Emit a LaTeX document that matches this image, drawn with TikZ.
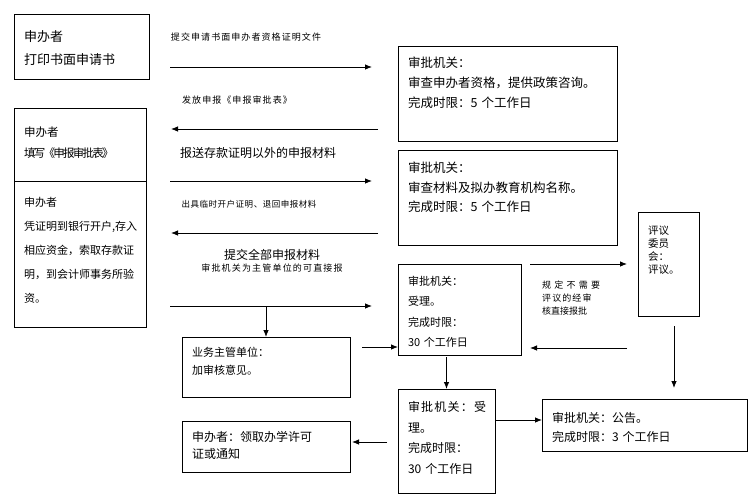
\documentclass[tikz,border=0pt]{standalone}
\usepackage{fontspec}
\setmainfont{Noto Sans CJK SC}
\usetikzlibrary{arrows.meta}
\newcommand\fs[2]{\fontsize{#1}{#2}\selectfont}
\newcommand\lsp[1]{\addfontfeatures{LetterSpace=#1}}

\begin{document}
\begin{tikzpicture}[x=1pt, y=-1pt, >={Latex[length=7pt,width=5.5pt]},
  box/.style={draw, line width=.8pt, anchor=north west, align=left,
    inner xsep=10pt, inner ysep=0pt, outer sep=0pt},
  lbl/.style={inner sep=0pt, font=\fs{9}{13}},
  conn/.style={->, line width=.8pt}]
\useasboundingbox (0,0) rectangle (755,501);

\node[box, text width=115pt, text height=27pt, text depth=38pt, font=\fs{13}{23}] (A) at (14,14) {申办者\\打印书面申请书};
\node[box, text width=112pt, text height=28.4pt, text depth=44.6pt, font=\fs{11.5}{21}] (B) at (14,108) {申办者\\{\lsp{-15}填写《申报审批表》}};
\node[box, text width=112pt, text height=25.2pt, text depth=120.8pt, font=\fs{11}{24}] (P) at (14,181) {申办者\\凭证明到银行开户,存入\\相应资金，索取存款证\\明，到会计师事务所验\\资。};
\node[box, text width=199pt, text height=21.8pt, text depth=73.2pt, font=\fs{12.5}{20}] (C) at (398,46) {审批机关：\\审查申办者资格，提供政策咨询。\\完成时限：5 个工作日};
\node[box, text width=199pt, text height=22.8pt, text depth=72.2pt, font=\fs{12.5}{19.5}] (D) at (398,150) {审批机关：\\审查材料及拟办教育机构名称。\\完成时限：5 个工作日};
\node[box, text width=41pt, text height=22pt, text depth=82pt, font=\fs{10.5}{13}] (E) at (638,212) {评议\\委员\\会：\\评议。};
\node[box, text width=103pt, text height=21.2pt, text depth=69.8pt, font=\fs{11}{20.5}] (F) at (398,264) {审批机关：\\受理。\\完成时限：\\30 个工作日};
\node[box, text width=148pt, text height=19.2pt, text depth=40.8pt, font=\fs{11}{18}] (G) at (182,337) {业务主管单位：\\加审核意见。};
\node[box, text width=77pt, text height=22.6pt, text depth=81.4pt, font=\fs{12}{20.5}] (H) at (398,389) {{\lsp{10}审批机关：受}\\理。\\完成时限：\\30 个工作日};
\node[box, text width=185pt, text height=23.6pt, text depth=28.4pt, font=\fs{12}{19}] (I) at (542,399) {审批机关：公告。\\完成时限：3 个工作日};
\node[box, text width=148pt, text height=20.6pt, text depth=30.4pt, font=\fs{12}{17}] (J) at (182,421) {申办者：领取办学许可\\证或通知};

\node[lbl] (l1) at (246,37) {\lsp{12}提交申请书面申办者资格证明文件};
\node[lbl] (l2) at (237,100) {\lsp{12}发放申报《申报审批表》};
\node[lbl, font=\fs{12}{14}] (l3) at (258,153) {报送存款证明以外的申报材料};
\node[lbl, font=\fs{8.5}{10}] (l4) at (249,204) {\lsp{6}出具临时开户证明、退回申报材料};
\node[lbl, font=\fs{12}{14}] (l5) at (272,255) {提交全部申报材料};
\node[lbl] (l6) at (272,268) {\lsp{13}审批机关为主管单位的可直接报};
\node[lbl, align=left, anchor=north west] (l7) at (542,281) {{\lsp{36}规定不需要}\\{\lsp{12}评议的经审}\\核直接报批};

\coordinate (p1) at (170,67);  \coordinate (q1) at (372,67);
\coordinate (p2) at (378,129); \coordinate (q2) at (171,129);
\coordinate (p3) at (170,181); \coordinate (q3) at (372,181);
\coordinate (p4) at (378,233); \coordinate (q4) at (171,233);
\coordinate (p5) at (170,306); \coordinate (q5) at (372,306);
\coordinate (e1) at (530,264);
\coordinate (f1) at (627,348);
\coordinate (g1) at (362,347);
\coordinate (h1) at (495,420);
\coordinate (j1) at (387,442);

\draw[conn] (p1) -- (q1);
\draw[conn] (p2) -- (q2);
\draw[conn] (p3) -- (q3);
\draw[conn] (p4) -- (q4);
\draw[conn] (p5) -- (q5);
\draw[conn] (G.north |- p5) -- (G.north);
\draw[conn] (g1) -- (F.west |- g1);
\draw[conn, shorten >=11pt] (e1) -- (E.west |- e1);
\draw[conn, shorten >=9pt] (f1) -- (F.east |- f1);
\draw[conn, shorten <=10pt, shorten >=11pt] ([xshift=5.5pt]E.south) -- ([xshift=5.5pt]E.south |- I.north);
\draw[conn, shorten <=2pt] (F.south -| H.north) -- (H.north);
\draw[conn] (h1) -- (I.west |- h1);
\draw[conn, shorten >=2pt] (j1) -- (J.east |- j1);
\end{tikzpicture}
\end{document}
